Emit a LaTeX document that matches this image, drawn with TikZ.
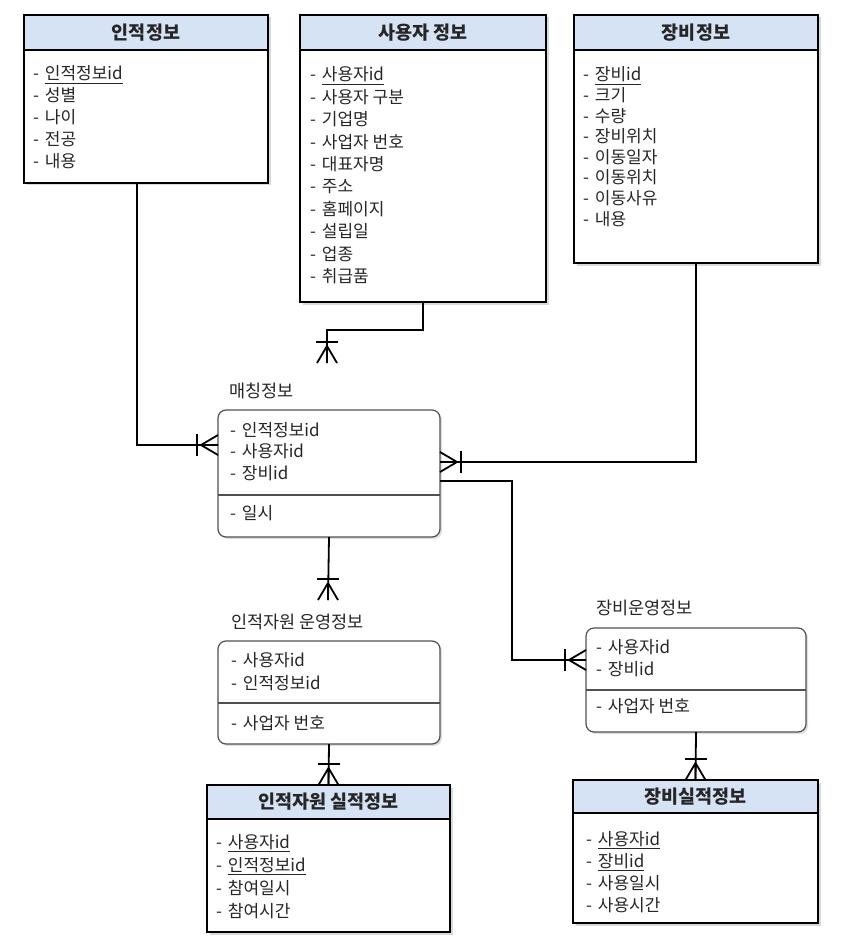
\documentclass[tikz,border=0pt]{standalone}
\usepackage{fontspec}
\setmainfont{Noto Sans CJK KR}
\usepackage{tikz}
\usetikzlibrary{positioning,calc,shadows}
\definecolor{headblue}{HTML}{D6E3F4}
\definecolor{textgray}{HTML}{262626}
\definecolor{viewline}{HTML}{505050}
\tikzset{
    table-box/.style = {draw=black, line width=1.6pt, fill=white, rectangle, anchor=north west, inner sep=0pt, outer sep=0pt, drop shadow={shadow xshift=2.5pt, shadow yshift=-2.5pt, opacity=0.3}},
    table-head/.style = {draw=black, line width=1.6pt, fill=headblue, rectangle, anchor=north west, inner sep=0pt, outer sep=0pt, font=\fontsize{18.5}{21}\selectfont\bfseries, text=black!85},
    view-box/.style = {draw=viewline, line width=1.2pt, fill=white, rounded corners=8pt, rectangle, anchor=north west, inner sep=0pt, outer sep=0pt, drop shadow={shadow xshift=2pt, shadow yshift=-2pt, opacity=0.25}},
    view-title/.style = {inner sep=0pt, font=\fontsize{17.5}{20}\selectfont, text=textgray},
    attr/.style = {anchor=base west, inner sep=0pt, font=\fontsize{17}{20}\selectfont, text=textgray},
    link/.style = {draw=black, line width=1.8pt},
    crows-foot/.pic = {
        \draw[link] (-17,0) -- (0,-10) (-17,0) -- (0,10) (-17,0) -- (0,0);
        \draw[link] (-21,-11) -- (-21,11);
    },
}

\begin{document}
\begin{tikzpicture}[x=1pt, y=-1pt]
\useasboundingbox (0,0) rectangle (846,941);

% entity tables
\node[table-box, minimum width=244pt, minimum height=168pt] (person) at (24,15) {};
\node[table-head, minimum width=244pt, minimum height=35pt] (person-head) at (person.north west) {인적정보};
\foreach \t [count=\i from 0] in {\underline{인적정보id}, 성별, 나이, 전공, 내용}
    \node[attr] at ($(person.north west)+(9,65+22*\i)$) {-\hspace{2pt} \t};

\node[table-box, minimum width=246pt, minimum height=287pt] (user) at (300,15) {};
\node[table-head, minimum width=246pt, minimum height=35pt] (user-head) at (user.north west) {사용자 정보};
\foreach \t [count=\i from 0] in {\underline{사용자id}, 사용자 구분, 기업명, 사업자 번호, 대표자명, 주소, 홈페이지, 설립일, 업종, 취급품}
    \node[attr] at ($(user.north west)+(10,66+22.4*\i)$) {-\hspace{2pt} \t};

\node[table-box, minimum width=244pt, minimum height=248pt] (equip) at (574,15) {};
\node[table-head, minimum width=244pt, minimum height=35pt] (equip-head) at (equip.north west) {장비정보};
\foreach \t [count=\i from 0] in {\underline{장비id}, 크기, 수량, 장비위치, 이동일자, 이동위치, 이동사유, 내용}
    \node[attr] at ($(equip.north west)+(9,66+20.6*\i)$) {-\hspace{2pt} \t};

\node[table-box, minimum width=243pt, minimum height=147pt] (hrres) at (207,785) {};
\node[table-head, minimum width=243pt, minimum height=34pt] (hrres-head) at (hrres.north west) {인적자원 실적정보};
\foreach \t [count=\i from 0] in {\underline{사용자id}, \underline{인적정보id}, 참여일시, 참여시간}
    \node[attr] at ($(hrres.north west)+(9,63+23*\i)$) {-\hspace{2pt} \t};

\node[table-box, minimum width=245pt, minimum height=143pt] (eqres) at (573,780) {};
\node[table-head, minimum width=245pt, minimum height=33pt] (eqres-head) at (eqres.north west) {장비실적정보};
\foreach \t [count=\i from 0] in {\underline{사용자id}, \underline{장비id}, 사용일시, 사용시간}
    \node[attr] at ($(eqres.north west)+(13,65+22*\i)$) {-\hspace{2pt} \t};

% relation boxes
\node[view-box, minimum width=222pt, minimum height=127pt] (match) at (218,410) {};
\node[view-title, above right=11pt and 11pt] (match-title) at (match.north west) {매칭정보};
\draw[viewline, line width=1.2pt] ($(match.north west)+(0,85)$) -- ($(match.north east)+(0,85)$);
\foreach \t [count=\i from 0] in {인적정보id, 사용자id, 장비id}
    \node[attr] at ($(match.north west)+(12,26+21.5*\i)$) {-\hspace{2pt} \t};
\node[attr] at ($(match.north west)+(12,109)$) {-\hspace{2pt} 일시};

\node[view-box, minimum width=222pt, minimum height=103pt] (hrop) at (218,641) {};
\node[view-title, above right=11pt and 13pt] (hrop-title) at (hrop.north west) {인적자원 운영정보};
\draw[viewline, line width=1.2pt] ($(hrop.north west)+(0,62)$) -- ($(hrop.north east)+(0,62)$);
\foreach \t [count=\i from 0] in {사용자id, 인적정보id}
    \node[attr] at ($(hrop.north west)+(13,25+23*\i)$) {-\hspace{2pt} \t};
\node[attr] at ($(hrop.north west)+(13,88)$) {-\hspace{2pt} 사업자 번호};

\node[view-box, minimum width=220pt, minimum height=104pt] (eqop) at (586,628) {};
\node[view-title, above right=12pt and 10pt] (eqop-title) at (eqop.north west) {장비운영정보};
\draw[viewline, line width=1.2pt] ($(eqop.north west)+(0,62)$) -- ($(eqop.north east)+(0,62)$);
\foreach \t [count=\i from 0] in {사용자id, 장비id}
    \node[attr] at ($(eqop.north west)+(10,25+22*\i)$) {-\hspace{2pt} \t};
\node[attr] at ($(eqop.north west)+(10,84)$) {-\hspace{2pt} 사업자 번호};

% connectors
\coordinate (user-end) at (327,363);
\coordinate (hrop-end) at (328,600);
\draw[link] ([xshift=-9pt]person.south) |- ([yshift=28.5pt]match.west);
\draw[link] (user.south) -- ++(0,28) -| (user-end);
\draw[link] (equip.south) |- ([yshift=11.5pt]match.east);
\draw[link] ([yshift=-7.5pt]match.east) -- ++(72,0) |- ([yshift=20pt]eqop.west);
\draw[link] (match.south) -- (hrop-end);
\draw[link] (hrop.south) -- (hrres.north);
\draw[link] (eqop.south) -- (eqres.north);

\pic at ([yshift=28.5pt]match.west) {crows-foot};
\pic[rotate=180] at ([yshift=11.5pt]match.east) {crows-foot};
\pic at ([yshift=20pt]eqop.west) {crows-foot};
\pic[rotate=-90] at (user-end) {crows-foot};
\pic[rotate=-90] at (hrop-end) {crows-foot};
\pic[rotate=-90] at (hrres.north) {crows-foot};
\pic[rotate=-90] at (eqres.north) {crows-foot};
\end{tikzpicture}
\end{document}
